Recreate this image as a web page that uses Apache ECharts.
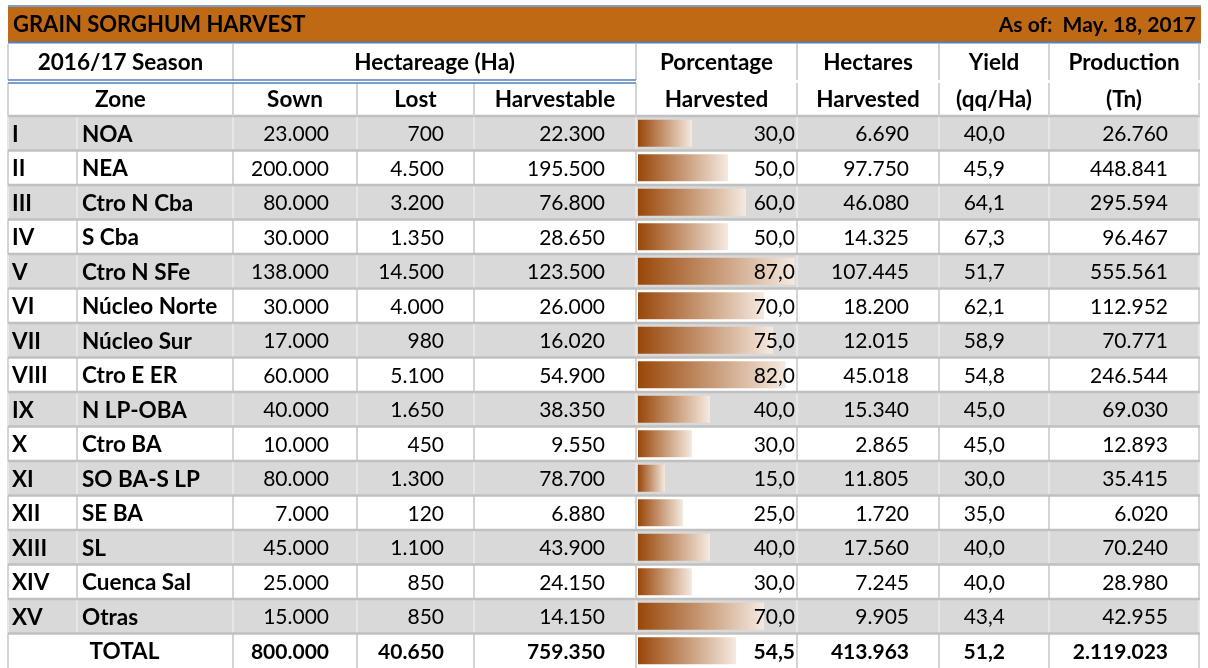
<!DOCTYPE html>
<html>
<head>
<meta charset="utf-8">
<script src="https://cdn.jsdelivr.net/npm/echarts@6/dist/echarts.min.js"></script>
<style>
html,body{margin:0;padding:0;background:#fff;}
#chart{width:1208px;height:668px;}
</style>
</head>
<body>
<div id="chart"></div>
<script>
// ---------- DATA ----------
const title = 'GRAIN SORGHUM HARVEST';
const asOf = 'As of:  May. 18, 2017';
const zones = ['I','II','III','IV','V','VI','VII','VIII','IX','X','XI','XII','XIII','XIV','XV'];
const zoneNames = ['NOA','NEA','Ctro N Cba','S Cba','Ctro N SFe','Núcleo Norte','Núcleo Sur','Ctro E ER','N LP-OBA','Ctro BA','SO BA-S LP','SE BA','SL','Cuenca Sal','Otras'];
const sown = [23000,200000,80000,30000,138000,30000,17000,60000,40000,10000,80000,7000,45000,25000,15000];
const lost = [700,4500,3200,1350,14500,4000,980,5100,1650,450,1300,120,1100,850,850];
const harvestable = [22300,195500,76800,28650,123500,26000,16020,54900,38350,9550,78700,6880,43900,24150,14150];
const pctHarvested = [30,50,60,50,87,70,75,82,40,30,15,25,40,30,70];
const haHarvested = [6690,97750,46080,14325,107445,18200,12015,45018,15340,2865,11805,1720,17560,7245,9905];
const yieldQq = [40.0,45.9,64.1,67.3,51.7,62.1,58.9,54.8,45.0,45.0,30.0,35.0,40.0,40.0,43.4];
const production = [26760,448841,295594,96467,555561,112952,70771,246544,69030,12893,35415,6020,70240,28980,42955];
const totalLabel = 'TOTAL';
const totalSown = 800000, totalLost = 40650, totalHarvestable = 759350, totalPct = 54.5,
      totalHaHarvested = 413963, totalYield = 51.2, totalProduction = 2119023;
const headerRow1 = ['2016/17 Season','Hectareage (Ha)','Porcentage','Hectares','Yield','Production'];
const headerRow2 = ['Zone','Sown','Lost','Harvestable','Harvested','Harvested','(qq/Ha)','(Tn)'];

// ---------- LAYOUT ----------
const FONT = 'Lato, "Open Sans", sans-serif';
const FS = 21, FSB = 22.5;
const C = {L:8, c1:77, c2:233, c3:357, c4:474, c5:636, c6:797, c7:939, c8:1049, R:1199};
const BODY_TOP = 116, ROW_H = 34.6, NROWS = 16;
const ORANGE = '#C06914', BLUE = '#4F81BD', STRIPE = '#D9D9D9';

function intFmt(v){ return Math.round(v).toString().replace(/\B(?=(\d{3})+(?!\d))/g,'.'); }
function decFmt(v){ return v.toFixed(1).replace('.',','); }

const rowIdx = [];
for (let i=0;i<NROWS;i++) rowIdx.push(String(i));

const rows = zones.map((z,i)=>({
  z:z, name:zoneNames[i], sown:sown[i], lost:lost[i], harv:harvestable[i],
  pct:pctHarvested[i], ha:haHarvested[i], yld:yieldQq[i], prod:production[i], total:false
}));
rows.push({z:'', name:totalLabel, sown:totalSown, lost:totalLost, harv:totalHarvestable,
  pct:totalPct, ha:totalHaHarvested, yld:totalYield, prod:totalProduction, total:true});
const pctAll = pctHarvested.concat([totalPct]);

// ---------- HEADER GRAPHICS ----------
const g = [];
function hline(x1,x2,y,color,w){ g.push({type:'line',shape:{x1:x1,y1:y,x2:x2,y2:y},style:{stroke:color,lineWidth:w},z:10}); }
function vline(x,y1,y2,color,w){ g.push({type:'line',shape:{x1:x,y1:y1,x2:x,y2:y2},style:{stroke:color,lineWidth:w},z:10}); }
function txt(s,x,y,align,size){ g.push({type:'text',x:x,y:y,style:{text:s,fill:'#000',font:'bold '+size+'px '+FONT,textAlign:align,textVerticalAlign:'middle'},z:11}); }

g.push({type:'rect',shape:{x:C.L,y:7,width:C.R-C.L+2,height:35},style:{fill:ORANGE},z:9});
hline(C.L,C.R+2,6,BLUE,1.5);
hline(C.L,C.R+2,42.5,BLUE,2);
txt(title,13,25,'left',22);
txt(asOf,1196,25,'right',21);
[C.L,C.c2,C.c5,C.c6,C.c7,C.c8,C.R].forEach(x=>vline(x,44,80,'#D4D4D4',2));
[C.L,C.c2,C.c3,C.c4,C.c5,C.c6,C.c7,C.c8,C.R].forEach(x=>vline(x,83,116,'#D4D4D4',2));
hline(C.L,C.c5,80,BLUE,1.5);
hline(C.L,C.c5,83,BLUE,1.5);
const y1 = 63, y2 = 100;
txt(headerRow1[0],(C.L+C.c2)/2,y1,'center',FSB);
txt(headerRow1[1],(C.c2+C.c5)/2,y1,'center',FSB);
txt(headerRow1[2],(C.c5+C.c6)/2,y1,'center',FSB);
txt(headerRow1[3],(C.c6+C.c7)/2,y1,'center',FSB);
txt(headerRow1[4],(C.c7+C.c8)/2,y1,'center',FSB);
txt(headerRow1[5],(C.c8+C.R)/2,y1,'center',FSB);
txt(headerRow2[0],(C.L+C.c2)/2,y2,'center',FSB);
txt(headerRow2[1],(C.c2+C.c3)/2,y2,'center',FSB);
txt(headerRow2[2],(C.c3+C.c4)/2,y2,'center',FSB);
txt(headerRow2[3],(C.c4+C.c5)/2,y2,'center',FSB);
txt(headerRow2[4],(C.c5+C.c6)/2,y2,'center',FSB);
txt(headerRow2[5],(C.c6+C.c7)/2,y2,'center',FSB);
txt(headerRow2[6],(C.c7+C.c8)/2,y2,'center',FSB);
txt(headerRow2[7],(C.c8+C.R)/2,y2,'center',FSB);

// ---------- SERIES ----------
function bgItem(params, api){
  const i = api.value(1);
  const yc = api.coord([0,i])[1];
  const h = api.size([0,1])[1];
  const top = yc - h/2;
  const xs = v => api.coord([v,i])[0];
  const gray = (i%2===0) && i<15;
  const ch = [];
  ch.push({type:'rect',shape:{x:xs(C.L),y:top,width:xs(C.R)-xs(C.L),height:h},style:{fill:gray?STRIPE:'#fff'}});
  const vcol = gray ? '#E6E6E6' : '#D4D4D4';
  const vx = i<15 ? [C.L,C.c1,C.c2,C.c3,C.c4,C.c5,C.c6,C.c7,C.c8,C.R] : [C.L,C.c2,C.c3,C.c4,C.c5,C.c6,C.c7,C.c8,C.R];
  vx.forEach(x=>ch.push({type:'line',shape:{x1:xs(x),y1:top,x2:xs(x),y2:top+h},style:{stroke:vcol,lineWidth:2}}));
  ch.push({type:'line',shape:{x1:xs(C.L),y1:top,x2:xs(C.R)+1,y2:top},style:{stroke:'#C0C0C0',lineWidth:2.5}});
  return {type:'group',children:ch};
}

function textItem(params, api){
  const i = api.value(1);
  const r = rows[i];
  const yc = api.coord([0,i])[1] + 1;
  const xs = v => api.coord([v,i])[0];
  const t = (s,x,align,bold,size)=>({type:'text',x:x,y:yc,style:{text:s,fill:'#000',font:(bold?'bold ':'')+(size||FS)+'px '+FONT,textAlign:align,textVerticalAlign:'middle'}});
  const ch = [];
  if (r.total) {
    ch.push(t(r.name,(C.L+C.c2)/2+4,'center',true,FSB));
  } else {
    ch.push(t(r.z,xs(C.L)+4,'left',true,FSB));
    ch.push(t(r.name,xs(C.c1)+5,'left',true,FSB));
  }
  ch.push(t(intFmt(r.sown),xs(329),'right',r.total));
  ch.push(t(intFmt(r.lost),xs(444),'right',r.total));
  ch.push(t(intFmt(r.harv),xs(605),'right',r.total));
  ch.push(t(decFmt(r.pct),xs(795),'right',r.total));
  ch.push(t(intFmt(r.ha),xs(909),'right',r.total));
  ch.push(t(decFmt(r.yld),xs(1005),'right',r.total));
  ch.push(t(intFmt(r.prod),xs(1168),'right',r.total));
  return {type:'group',children:ch};
}

const chart = echarts.init(document.getElementById('chart'), null, {renderer:'canvas'});
chart.setOption({
  animation:false,
  backgroundColor:'#fff',
  grid:[
    {left:0, width:1208, top:BODY_TOP, height:ROW_H*NROWS, containLabel:false},
    {left:638, width:158.4, top:BODY_TOP, height:ROW_H*NROWS, containLabel:false}
  ],
  xAxis:[
    {type:'value', gridIndex:0, min:0, max:1208, show:false},
    {type:'value', gridIndex:1, min:0, max:88, show:false}
  ],
  yAxis:[
    {type:'category', gridIndex:0, data:rowIdx, inverse:true, show:false},
    {type:'category', gridIndex:1, data:rowIdx, inverse:true, show:false}
  ],
  graphic:g,
  series:[
    {type:'custom', xAxisIndex:0, yAxisIndex:0, z:1, silent:true,
     data: rowIdx.map((r,i)=>[0,i]), renderItem:bgItem},
    {type:'bar', xAxisIndex:1, yAxisIndex:1, z:3, silent:true, barWidth:27,
     data: pctAll,
     itemStyle:{color:new echarts.graphic.LinearGradient(0,0,1,0,[{offset:0,color:'#994709'},{offset:1,color:'#F5EAE1'}])}},
    {type:'custom', xAxisIndex:0, yAxisIndex:0, z:5, silent:true,
     data: rowIdx.map((r,i)=>[0,i]), renderItem:textItem}
  ]
});
</script>
</body>
</html>
